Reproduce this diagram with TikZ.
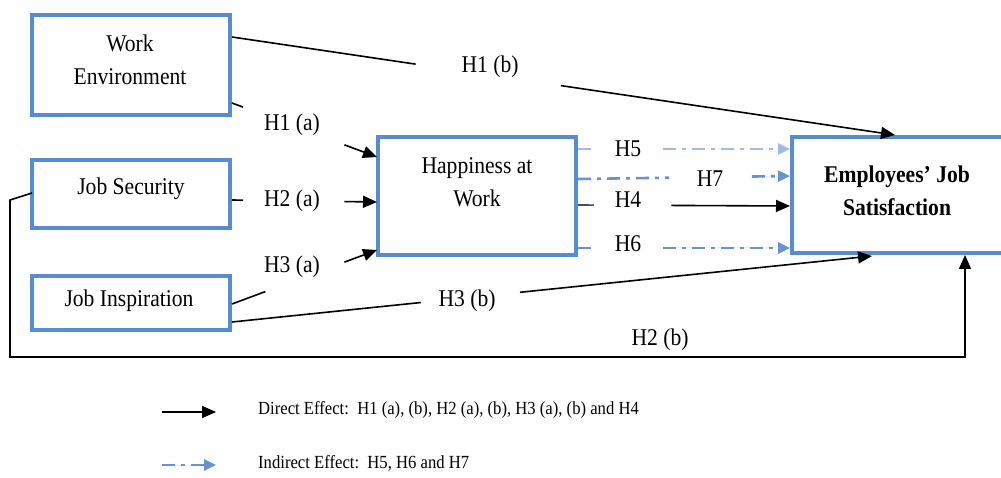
\documentclass[tikz,border=0pt]{standalone}
\usepackage{fontspec}
\setmainfont{Liberation Serif}[FakeStretch=0.9]
\usetikzlibrary{arrows.meta,calc}
\definecolor{boxblue}{RGB}{86,140,212}
\definecolor{lightdash}{RGB}{160,188,228}
\definecolor{middash}{RGB}{104,146,208}
\tikzset{
  box/.style={draw=boxblue, line width=4pt, inner sep=0pt, outer sep=0pt, fill=white},
  txt/.style={font=\fontsize{24}{33}\selectfont, align=center, inner sep=0pt},
  lbl/.style={font=\fontsize{24}{28}\selectfont, inner sep=0pt},
  legtxt/.style={font=\fontsize{18.5}{22}\selectfont, inner sep=0pt, anchor=west},
  direct/.style={line width=1.6pt, draw=black},
  tipblack/.style={-{Triangle[length=14pt,width=12pt]}},
  indirect/.style={line width=2.6pt, dash pattern=on 13pt off 6pt on 4pt off 6pt},
  tipblue/.style={-{Triangle[length=12pt,width=11pt]}},
}
\begin{document}
\begin{tikzpicture}[x=1pt,y=-1pt]
\useasboundingbox (0,0) rectangle (1001,478);
\fill[white] (0,0) rectangle (1001,478);

% boxes
\node[box, minimum width=198pt, minimum height=100pt] (we) at (131,65) {};
\node[box, minimum width=198pt, minimum height=68pt] (js) at (131,194) {};
\node[box, minimum width=198pt, minimum height=54pt] (ji) at (131,303) {};
\node[box, minimum width=198pt, minimum height=118pt] (hw) at (477,196) {};
\node[box, minimum width=218pt, minimum height=116pt] (ej) at (901,195) {};

% box texts
\node[txt] (wet) at (130,60) {Work\\Environment};
\node[txt] (jst) at (131,189) {Job Security};
\node[txt] (jit) at (129,301) {Job Inspiration};
\node[txt] (hwt) at (477,182) {Happiness at\\Work};
\node[txt, font=\fontsize{24}{33}\selectfont\bfseries] (ejt) at (897,191) {Employees’ Job\\Satisfaction};

% H1 (b)
\coordinate (h1bA) at (232,37);
\coordinate (h1bB) at (895,135);
\draw[direct] (h1bA) -- ($(h1bA)!0.277!(h1bB)$);
\draw[direct,tipblack] ($(h1bA)!0.496!(h1bB)$) -- (h1bB);
\node[lbl] (l1b) at (490,67) {H1 (b)};

% H1 (a)
\coordinate (h1aA) at (232,103);
\coordinate (h1aB) at (377,157);
\draw[direct] (h1aA) -- ($(h1aA)!0.076!(h1aB)$);
\draw[direct,tipblack] ($(h1aA)!0.775!(h1aB)$) -- (h1aB);
\node[lbl] (l1a) at (292,125) {H1 (a)};

% H2 (a)
\coordinate (h2aA) at (232,200);
\coordinate (h2aB) at (377,202);
\draw[direct] (h2aA) -- ($(h2aA)!0.076!(h2aB)$);
\draw[direct,tipblack] ($(h2aA)!0.775!(h2aB)$) -- (h2aB);
\node[lbl] (l2a) at (292,201) {H2 (a)};

% H3 (a)
\coordinate (h3aA) at (232,304);
\coordinate (h3aB) at (377,250);
\draw[direct] (h3aA) -- ($(h3aA)!0.23!(h3aB)$);
\draw[direct,tipblack] ($(h3aA)!0.775!(h3aB)$) -- (h3aB);
\node[lbl] (l3a) at (292,267) {H3 (a)};

% H3 (b)
\coordinate (h3bA) at (232,322);
\coordinate (h3bB) at (872,256);
\draw[direct] (h3bA) -- ($(h3bA)!0.295!(h3bB)$);
\draw[direct,tipblack] ($(h3bA)!0.45!(h3bB)$) -- (h3bB);
\node[lbl] (l3b) at (467,301) {H3 (b)};

% H2 (b)
\coordinate (h2bA) at (32,193);
\coordinate (h2bB) at (965,255);
\draw[direct,tipblack] (h2bA) -- (10,200) -- (10,357) -| (h2bB);
\node[lbl] (l2b) at (660,340) {H2 (b)};

% H5
\coordinate (h5A) at (578,149);
\coordinate (h5B) at (790,149);
\draw[indirect, draw=lightdash] (h5A) -- ($(h5A)!0.075!(h5B)$);
\draw[indirect, draw=lightdash, fill=lightdash, tipblue] ($(h5A)!0.4!(h5B)$) -- (h5B);
\node[lbl] (l5) at (628,149) {H5};

% H7
\coordinate (h7A) at (578,179);
\coordinate (h7B) at (790,176);
\draw[indirect, draw=middash] (h7A) -- ($(h7A)!0.43!(h7B)$);
\draw[indirect, draw=middash, fill=middash, tipblue] ($(h7A)!0.82!(h7B)$) -- (h7B);
\node[lbl] (l7) at (710,179) {H7};

% H4
\coordinate (h4A) at (578,205);
\coordinate (h4B) at (790,206);
\draw[direct, draw=black!70] (h4A) -- ($(h4A)!0.075!(h4B)$);
\draw[direct,tipblack] ($(h4A)!0.44!(h4B)$) -- (h4B);
\node[lbl] (l4) at (628,200) {H4};

% H6
\coordinate (h6A) at (578,248);
\coordinate (h6B) at (790,248);
\draw[indirect, draw=middash] (h6A) -- ($(h6A)!0.075!(h6B)$);
\draw[indirect, draw=middash, fill=middash, tipblue] ($(h6A)!0.4!(h6B)$) -- (h6B);
\node[lbl] (l6) at (628,244) {H6};

% legend
\coordinate (lg1A) at (162,412);
\coordinate (lg1B) at (216,412);
\draw[direct,tipblack] (lg1A) -- (lg1B);
\node[legtxt] (lg1t) at (258,410) {Direct Effect:\ \ H1 (a), (b), H2 (a), (b), H3 (a), (b) and H4};
\coordinate (lg2A) at (162,465);
\coordinate (lg2B) at (216,465);
\draw[indirect, draw=middash, fill=middash, tipblue] (lg2A) -- (lg2B);
\node[legtxt] (lg2t) at (258,463) {Indirect Effect:\ \ H5, H6 and H7};
\end{tikzpicture}
\end{document}
